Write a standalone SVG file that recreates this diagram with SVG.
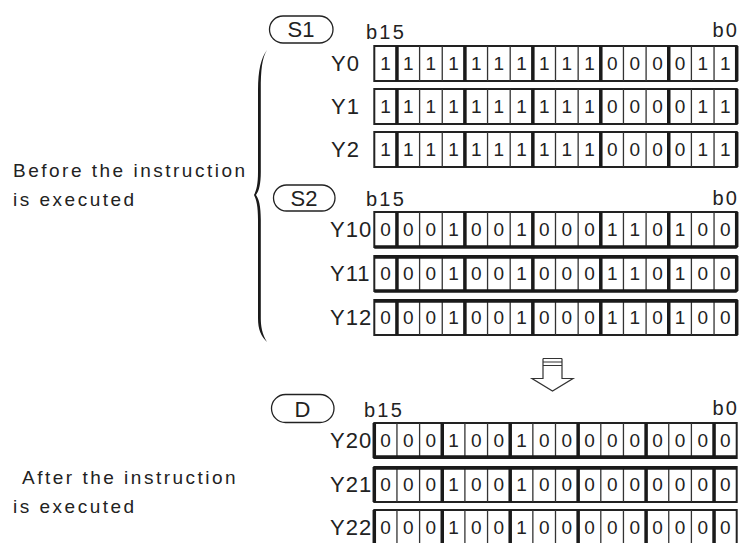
<svg xmlns="http://www.w3.org/2000/svg" xmlns:xlink="http://www.w3.org/1999/xlink" width="739" height="543" viewBox="0 0 739 543">
<style>
text{font-family:"Liberation Sans",Arial,sans-serif;fill:#222}
.note{font-size:19px;letter-spacing:2.5px}
.lbl{font-size:22px;letter-spacing:1px}
.bnum{font-size:20px;letter-spacing:2.2px}
.tag{font-size:22px;text-anchor:middle}
.bit{font-size:19px;text-anchor:middle}
.box{fill:#fff;stroke:#222;stroke-width:2}
.thin{fill:none;stroke:#333;stroke-width:1.3}
.thick{fill:none;stroke:#1a1a1a;stroke-width:3.5}
.hthick{fill:none;stroke:#1a1a1a;stroke-width:3.5}
.oval{fill:#fff;stroke:#222;stroke-width:1.3}
.arrow{fill:none;stroke:#333;stroke-width:1.2}
</style>
<defs>
<g id="gridA">
<rect class="box" x="374.3" y="0" width="362.4" height="35"/>
<path class="thin" d="M419.6,0v35M442.25,0v35M487.55,0v35M510.2,0v35M555.5,0v35M578.15,0v35M623.45,0v35M646.1,0v35M691.4,0v35M714.05,0v35"/>
<path class="thick" d="M396.95,0v35M464.9,0v35M532.85,0v35M600.8,0v35M668.75,0v35M736.7,0v35"/>
</g>
<g id="gridB">
<rect class="box" x="374.3" y="0" width="362.4" height="35"/>
<path class="thin" d="M396.95,0v35M419.6,0v35M464.9,0v35M487.55,0v35M532.85,0v35M555.5,0v35M600.8,0v35M623.45,0v35M668.75,0v35M691.4,0v35"/>
<path class="thick" d="M374.3,0v35M442.25,0v35M510.2,0v35M578.15,0v35M646.1,0v35M714.05,0v35"/>
</g>
</defs>

<g id="before-note">
<text class="note" x="13" y="176.5">Before the instruction</text>
<text class="note" x="13" y="205.5">is executed</text>
<path d="M267,50 C261,58 258,70 258,90 L258,172 C258,184 256.5,190 254,195 C256.5,200 258,206 258,220 L258,318 C258,330 261,336 267,342 C262,334 260.8,326 260.8,318 L260.8,220 C260.8,206 259,199 256,195 C259,191 260.8,184 260.8,172 L260.8,90 C260.8,70 262,58 267,50 Z" fill="#1a1a1a"/>
</g>

<g id="after-note">
<text class="note" x="22" y="483.5">After the instruction</text>
<text class="note" x="13" y="513">is executed</text>
</g>

<g id="S1">
<rect class="oval" x="269.5" y="16" width="63.5" height="27" rx="13.5"/>
<text class="tag" x="301" y="36.8">S1</text>
<text class="bnum" x="366" y="39.3">b15</text>
<text class="bnum" x="712.5" y="37.3">b0</text>
</g>
<g id="row-Y0">
<use xlink:href="#gridA" y="46"/>
<text class="lbl" x="331" y="71.4">Y0</text>
<text class="bit" x="385.6 408.3 430.9 453.6 476.2 498.9 521.5 544.2 566.8 589.5 612.2 634.8 657.5 680.1 702.8 725.4" y="70.3">1111111111000011</text>
</g>
<g id="row-Y1">
<use xlink:href="#gridA" y="89"/>
<text class="lbl" x="331" y="114.4">Y1</text>
<text class="bit" x="385.6 408.3 430.9 453.6 476.2 498.9 521.5 544.2 566.8 589.5 612.2 634.8 657.5 680.1 702.8 725.4" y="113.3">1111111111000011</text>
</g>
<g id="row-Y2">
<use xlink:href="#gridA" y="132"/>
<text class="lbl" x="331" y="157.4">Y2</text>
<text class="bit" x="385.6 408.3 430.9 453.6 476.2 498.9 521.5 544.2 566.8 589.5 612.2 634.8 657.5 680.1 702.8 725.4" y="156.3">1111111111000011</text>
</g>

<g id="S2">
<rect class="oval" x="273.5" y="185" width="61.5" height="26" rx="13"/>
<text class="tag" x="304" y="206">S2</text>
<text class="bnum" x="366" y="206">b15</text>
<text class="bnum" x="712.5" y="205">b0</text>
</g>
<g id="row-Y10">
<use xlink:href="#gridA" y="212"/>
<path class="hthick" d="M374.3,247h362.4"/>
<text class="lbl" x="330" y="237.4">Y10</text>
<text class="bit" x="385.6 408.3 430.9 453.6 476.2 498.9 521.5 544.2 566.8 589.5 612.2 634.8 657.5 680.1 702.8 725.4" y="236.3">0001001000110100</text>
</g>
<g id="row-Y11">
<use xlink:href="#gridA" y="256"/>
<path class="hthick" d="M374.3,257h362.4M374.3,291h362.4"/>
<text class="lbl" x="330" y="281.4">Y11</text>
<text class="bit" x="385.6 408.3 430.9 453.6 476.2 498.9 521.5 544.2 566.8 589.5 612.2 634.8 657.5 680.1 702.8 725.4" y="280.3">0001001000110100</text>
</g>
<g id="row-Y12">
<use xlink:href="#gridA" y="300"/>
<path class="hthick" d="M374.3,301h362.4"/>
<text class="lbl" x="330" y="325.4">Y12</text>
<text class="bit" x="385.6 408.3 430.9 453.6 476.2 498.9 521.5 544.2 566.8 589.5 612.2 634.8 657.5 680.1 702.8 725.4" y="324.3">0001001000110100</text>
</g>

<g id="connectors">
<path class="arrow" d="M543,358.5h19M543,362h19M543,365.5h19M543,358.5V378.5H532L552.5,391L573,378.5H562V358.5"/>
</g>

<g id="D">
<rect class="oval" x="271.5" y="394.5" width="62.5" height="28" rx="14"/>
<text class="tag" x="302.5" y="416.5">D</text>
<text class="bnum" x="364" y="416.7">b15</text>
<text class="bnum" x="712.5" y="415">b0</text>
</g>
<g id="row-Y20">
<use xlink:href="#gridB" y="423"/>
<path class="hthick" d="M374.3,457h362.4"/>
<text class="lbl" x="330" y="448.4">Y20</text>
<text class="bit" x="385.6 408.3 430.9 453.6 476.2 498.9 521.5 544.2 566.8 589.5 612.2 634.8 657.5 680.1 702.8 725.4" y="447.3">0001001000000000</text>
</g>
<g id="row-Y21">
<use xlink:href="#gridB" y="467"/>
<path class="hthick" d="M374.3,468h362.4"/>
<text class="lbl" x="330" y="492.4">Y21</text>
<text class="bit" x="385.6 408.3 430.9 453.6 476.2 498.9 521.5 544.2 566.8 589.5 612.2 634.8 657.5 680.1 702.8 725.4" y="491.3">0001001000000000</text>
</g>
<g id="row-Y22">
<use xlink:href="#gridB" y="510"/>
<text class="lbl" x="330" y="535.4">Y22</text>
<text class="bit" x="385.6 408.3 430.9 453.6 476.2 498.9 521.5 544.2 566.8 589.5 612.2 634.8 657.5 680.1 702.8 725.4" y="534.3">0001001000000000</text>
</g>
</svg>
